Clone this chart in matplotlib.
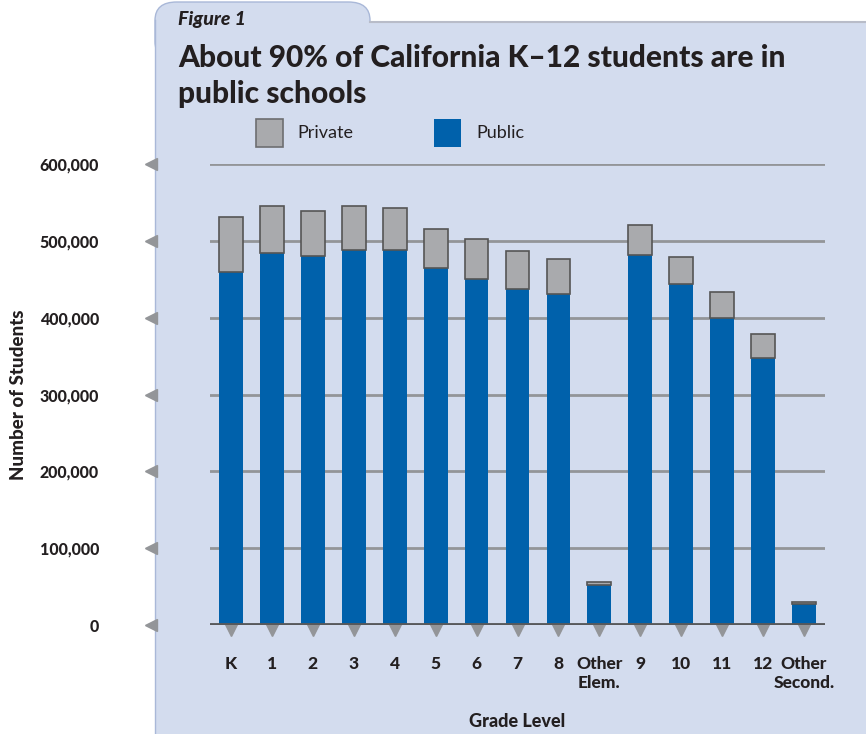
import matplotlib.pyplot as plt
from matplotlib.patches import FancyBboxPatch, Rectangle

grades = ["K", "1", "2", "3", "4", "5", "6", "7", "8", "Other\nElem.",
          "9", "10", "11", "12", "Other\nSecond."]
public = [459000, 484000, 480000, 488000, 488000, 465000, 450000, 437000,
          431000, 52000, 482000, 444000, 400000, 348000, 27000]
private = [72000, 61000, 59000, 57000, 55000, 50000, 52000, 50000,
           45000, 4000, 39000, 35000, 33000, 31000, 3000]
yticks = [0, 100000, 200000, 300000, 400000, 500000, 600000]

plt.rcParams['font.family'] = ['Lato', 'DejaVu Sans']
W, H = 866, 734
fig = plt.figure(figsize=(W / 100, H / 100), dpi=100)
fig.patch.set_facecolor('white')

panel = '#d3dcee'
edge = '#a9b8d8'
dark = '#231f20'
# background panel with the tab
fig.patches.append(FancyBboxPatch((155 / W, 1 - 60 / H), 215 / W, 58 / H,
                                  boxstyle="round,pad=0,rounding_size=0.025",
                                  transform=fig.transFigure, facecolor=panel,
                                  edgecolor=edge, linewidth=1, zorder=0))
fig.patches.append(Rectangle((155 / W, 0), 1, 1 - 22 / H, transform=fig.transFigure,
                             facecolor=panel, edgecolor='none', zorder=0))
fig.lines.append(plt.Line2D([370 / W, 1], [1 - 22 / H, 1 - 22 / H], transform=fig.transFigure,
                            color='#b8bcc8', linewidth=1.5, zorder=0.5))
fig.lines.append(plt.Line2D([155 / W, 155 / W], [0, 1 - 20 / H], transform=fig.transFigure,
                            color=edge, linewidth=1, zorder=0.5))

ax = fig.add_axes([210 / W, 1 - 625 / H, 615 / W, 461 / H], zorder=2)
ax.set_facecolor('none')
x = list(range(len(grades)))
blue = '#0061ab'
grey = '#a9aaad'
ax.bar(x, public, width=0.58, color=blue, edgecolor='none', zorder=3)
ax.bar(x, private, width=0.58, bottom=public, color=grey, edgecolor='#555555',
       linewidth=1.2, zorder=3)

ax.set_xlim(-0.513, 14.513)
ax.set_ylim(0, 600000)
for v in yticks[1:]:
    ax.axhline(v, color='#939598', linewidth=2, zorder=1)
ax.axhline(0, color='#58595b', linewidth=3.5, zorder=4)
for s in ax.spines.values():
    s.set_visible(False)

ax.set_yticks(yticks)
ax.set_yticklabels([f"{v:,}" for v in yticks], fontsize=11.5, fontweight='black', color=dark)
ax.tick_params(axis='y', length=0, pad=80)
ax.set_xticks(x)
ax.set_xticklabels(grades, fontsize=12.5, fontweight='black', color=dark, va='top',
                   linespacing=1.3)
ax.tick_params(axis='x', length=0, pad=22)

# triangle tick markers
ax.plot([-0.096] * len(yticks), yticks, marker='<', markersize=9, color='#939598',
        linestyle='none', transform=ax.get_yaxis_transform(), clip_on=False)
ax.plot(x, [-0.011] * len(x), marker='v', markersize=8, color='#939598',
        linestyle='none', transform=ax.get_xaxis_transform(), clip_on=False, zorder=2)

ax.set_ylabel("Number of Students", fontsize=13.5, fontweight='black', color=dark)
ax.yaxis.set_label_coords(-0.297, 0.5)
ax.set_xlabel("Grade Level", fontsize=13, fontweight='black', color=dark)
ax.xaxis.set_label_coords(0.5, -0.19)

fig.text(178 / W, 1 - 20 / H, "Figure 1", fontsize=14, fontweight='black', style='italic',
         color=dark, va='center')
fig.text(178 / W, 1 - 76 / H, "About 90% of California K\u201312 students are in\npublic schools",
         fontsize=21.5, fontweight='black', color=dark, va='center', linespacing=1.38)

# legend
fig.patches.append(Rectangle((256 / W, 1 - 147 / H), 27 / W, 28 / H, transform=fig.transFigure,
                             facecolor=grey, edgecolor='#6d6e71', linewidth=1.2, zorder=1))
fig.text(297 / W, 1 - 133 / H, "Private", fontsize=13, color=dark, va='center')
fig.patches.append(Rectangle((434 / W, 1 - 147 / H), 27 / W, 28 / H, transform=fig.transFigure,
                             facecolor=blue, edgecolor='none', zorder=1))
fig.text(476 / W, 1 - 133 / H, "Public", fontsize=13, color=dark, va='center')

fig.savefig("out.png", dpi=100)
